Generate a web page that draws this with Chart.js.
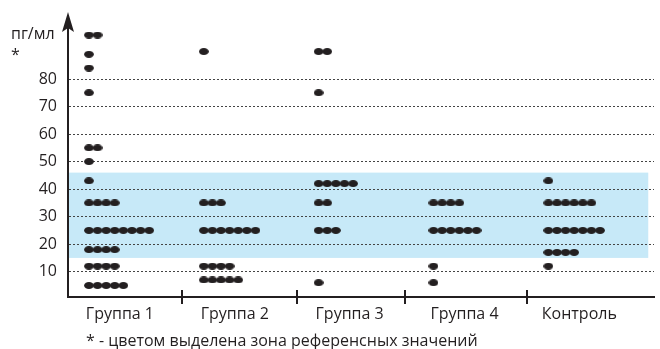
<!DOCTYPE html>
<html>
<head>
<meta charset="utf-8">
<script src="https://cdn.jsdelivr.net/npm/chart.js@4/dist/chart.umd.min.js"></script>
<style>
  html, body { margin: 0; padding: 0; background: #fff; }
</style>
</head>
<body>
<canvas id="dot-chart" width="660" height="349"></canvas>
<script>
// categories
const groups = ["Группа 1", "Группа 2", "Группа 3", "Группа 4", "Контроль"];

// individual measurements, pg/ml (equal values are stacked side by side)
const group1 = [96, 96, 89, 84, 75, 55, 55, 50, 43, 35, 35, 35, 35,
  25, 25, 25, 25, 25, 25, 25, 25, 18, 18, 18, 18, 12, 12, 12, 12, 5, 5, 5, 5, 5];
const group2 = [90, 35, 35, 35, 25, 25, 25, 25, 25, 25, 25, 12, 12, 12, 12, 7, 7, 7, 7, 7];
const group3 = [90, 90, 75, 42, 42, 42, 42, 42, 35, 35, 25, 25, 25, 6];
const group4 = [35, 35, 35, 35, 25, 25, 25, 25, 25, 25, 12, 6];
const control = [43, 35, 35, 35, 35, 35, 35, 25, 25, 25, 25, 25, 25, 25, 17, 17, 17, 17, 12];

const yTicks = [10, 20, 30, 40, 50, 60, 70, 80];
const refRange = [15, 46];
const unitLabel = "пг/мл";
const footnote = "* - цветом выделена зона референсных значений";

const ink = "#231f20";
const font = "'Open Sans', sans-serif";

// oval marker
const dot = document.createElement("canvas");
dot.width = 10; dot.height = 7;
const dctx = dot.getContext("2d");
dctx.fillStyle = ink;
dctx.beginPath();
dctx.ellipse(5, 3.5, 4.9, 3.5, 0, 0, Math.PI * 2);
dctx.fill();

const points = [];
[group1, group2, group3, group4, control].forEach((vals, i) => {
  const seen = {};
  vals.forEach(v => {
    const k = seen[v] || 0;
    seen[v] = k + 1;
    points.push({ x: i - 0.27 + k * 0.075, y: v });
  });
});

const decor = {
  id: "decor",
  beforeDraw(chart) {
    const { ctx, chartArea, scales } = chart;
    const top = scales.y.getPixelForValue(refRange[1]);
    const bottom = scales.y.getPixelForValue(refRange[0]);
    ctx.save();
    ctx.fillStyle = "#c7e9f8";
    ctx.fillRect(chartArea.left, top, scales.x.getPixelForValue(4.6) - chartArea.left, bottom - top);
    ctx.restore();
  },
  afterDraw(chart) {
    const { ctx, chartArea, scales } = chart;
    const ax = chartArea.left;
    ctx.save();
    ctx.strokeStyle = ink;
    ctx.lineWidth = 2;
    // y axis line
    ctx.beginPath();
    ctx.moveTo(ax, chartArea.top + 10);
    ctx.lineTo(ax, chartArea.bottom + 1);
    ctx.stroke();
    // group separators
    [0.54, 1.54, 2.48, 3.54].forEach(s => {
      const px = Math.round(scales.x.getPixelForValue(s));
      ctx.beginPath();
      ctx.moveTo(px, chartArea.bottom - 7);
      ctx.lineTo(px, chartArea.bottom + 7);
      ctx.stroke();
    });
    // arrow head
    ctx.fillStyle = ink;
    ctx.beginPath();
    ctx.moveTo(ax, chartArea.top - 1);
    ctx.lineTo(ax + 6, chartArea.top + 19);
    ctx.lineTo(ax, chartArea.top + 15);
    ctx.lineTo(ax - 6, chartArea.top + 19);
    ctx.closePath();
    ctx.fill();
    // texts
    ctx.font = "16px " + font;
    ctx.textBaseline = "middle";
    ctx.textAlign = "left";
    ctx.fillText(unitLabel, 11, 34);
    ctx.fillText("*", 11, 55);
    ctx.fillText(footnote, 86, 341);
    ctx.restore();
  }
};

new Chart(document.getElementById("dot-chart").getContext("2d"), {
  type: "scatter",
  data: {
    datasets: [{
      data: points,
      pointStyle: dot,
      pointRadius: 5,
      pointHoverRadius: 5,
      clip: false
    }]
  },
  options: {
    responsive: false,
    animation: false,
    events: [],
    layout: { padding: { top: 13, right: 0, left: 0, bottom: 0 } },
    plugins: { legend: { display: false }, tooltip: { enabled: false } },
    scales: {
      x: {
        type: "linear",
        min: -0.452,
        max: 4.65,
        afterFit(scale) {
          scale.height = 52;
          scale.paddingLeft = 0;
          scale.paddingRight = 0;
        },
        afterBuildTicks(scale) { scale.ticks = groups.map((g, i) => ({ value: i })); },
        grid: { drawOnChartArea: false, drawTicks: false },
        border: { display: true, color: ink, width: 2 },
        ticks: {
          callback: v => groups[v],
          autoSkip: false,
          maxRotation: 0,
          padding: 8,
          color: ink,
          font: { family: font, size: 16 }
        }
      },
      y: {
        min: 0.8,
        max: 104,
        afterFit(scale) {
          scale.width = 68;
          scale.paddingTop = 0;
          scale.paddingBottom = 0;
        },
        afterBuildTicks(scale) { scale.ticks = yTicks.map(v => ({ value: v })); },
        grid: { color: "#444", lineWidth: 1, drawTicks: false },
        border: { display: true, color: "rgba(0,0,0,0)", width: 1, dash: [2, 2] },
        ticks: {
          padding: 11,
          color: ink,
          font: { family: font, size: 16 }
        }
      }
    }
  },
  plugins: [decor]
});
</script>
</body>
</html>
